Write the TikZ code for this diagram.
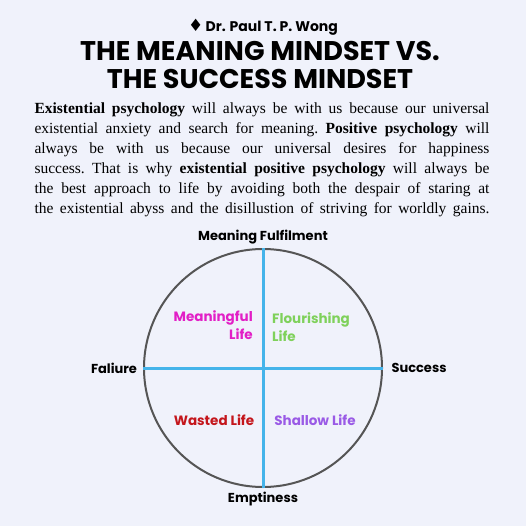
\documentclass[tikz,border=0pt]{standalone}
\usepackage{fontspec}
\setmainfont{Liberation Serif}
\setsansfont{Poppins}
\newfontfamily\symfont{DejaVu Sans}
\usetikzlibrary{positioning}
\definecolor{pagebg}{HTML}{F0F2FB}
\definecolor{axisblue}{HTML}{45B4EA}
\definecolor{rimgrey}{HTML}{555555}
\definecolor{meancol}{HTML}{E21FC6}
\definecolor{flourcol}{HTML}{7FD15B}
\definecolor{wastecol}{HTML}{C4161C}
\definecolor{shallcol}{HTML}{9A5AE6}

\begin{document}
\begin{tikzpicture}[
		x=1pt, y=-1pt,
		every node/.style={
				inner sep=0pt,
				text=black
			},
		headline/.style={font=\sffamily\bfseries\fontsize{27}{30}\selectfont},
		axislabel/.style={font=\sffamily\bfseries\fontsize{13}{15}\selectfont},
		quadlabel/.style={font=\sffamily\bfseries\fontsize{13.5}{18.5}\selectfont}
	]
	% page and its margins
	\fill[pagebg] (0,0) rectangle (526,526);
	\useasboundingbox (0,0) rectangle (526,526);

	\node (author) at (263, 27) {\sffamily\bfseries\fontsize{14}{16}\selectfont{\symfont\fontsize{17}{17}\selectfont\char"2666}\,Dr. Paul T. P. Wong};
	\node[headline] (title1) at (260, 51) {THE MEANING MINDSET VS.};
	\node[headline] (title2) at (260, 79) {THE SUCCESS MINDSET};

	\node[
		text width=455pt,
		align=justify,
		font=\fontsize{15.5}{20}\selectfont
	] (para) at (262, 160) {\frenchspacing\parfillskip=0pt
		\textbf{Existential psychology} will always be with us because our universal\linebreak
		existential anxiety and search for meaning. \textbf{Positive psychology} will\linebreak
		always be with us because our universal desires for happiness\linebreak
		success. That is why \textbf{existential positive psychology} will always be\linebreak
		the best approach to life by avoiding both the despair of staring at\linebreak
		the existential abyss and the disillustion of striving for worldly gains.\par};

	% the circle and its two axes
	\node[draw=rimgrey, line width=2pt, circle, minimum size=238pt] (circ) at (263, 368) {};
	\draw[axisblue, line width=3pt] (circ.north) -- (circ.south);
	\draw[axisblue, line width=3pt] (circ.west) -- (circ.east);

	\node[axislabel] (fulfil) at (263, 237) {Meaning Fulfilment};
	\node[axislabel] (empty) at (263, 499) {Emptiness};
	\node[axislabel] (fail) at (114, 368) {Faliure};
	\node[axislabel] (succ) at (419, 368) {Success};

	\node[quadlabel, text=meancol, anchor=east, align=right] (meanlife) at (253, 325) {Meaningful\\Life};
	\node[quadlabel, text=flourcol, anchor=west, align=left] (flourlife) at (272, 327) {Flourishing\\Life};
	\node[quadlabel, text=wastecol] (wastelife) at (214, 420) {Wasted Life};
	\node[quadlabel, text=shallcol] (shallowlife) at (315, 420) {Shallow Life};
\end{tikzpicture}
\end{document}
